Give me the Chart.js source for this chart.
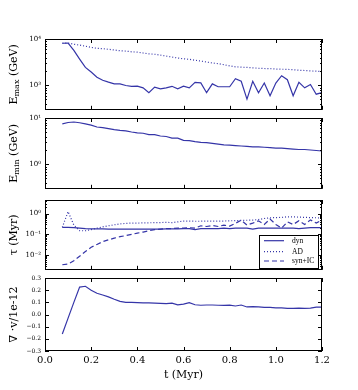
<!DOCTYPE html>
<html>
<head>
<meta charset="utf-8">
<script src="https://cdn.jsdelivr.net/npm/chart.js@4.4.1/dist/chart.umd.min.js"></script>
<style>
  body { margin: 0; background: #fff; }
  #wrap { position: relative; width: 358px; height: 390px; overflow: hidden; }
  #wrap canvas { position: absolute; left: 0; }
</style>
</head>
<body>
<div id="wrap">
  <canvas id="c1" width="358" height="89" style="top:29px"></canvas>
  <canvas id="c2" width="358" height="89" style="top:108px"></canvas>
  <canvas id="c3" width="358" height="88" style="top:190px"></canvas>
  <canvas id="c4" width="358" height="122" style="top:268px"></canvas>
</div>
<script>
// time axis (Myr)
const time = [0.075, 0.1, 0.125, 0.15, 0.175, 0.2, 0.225, 0.25, 0.275, 0.3,
  0.325, 0.35, 0.375, 0.4, 0.425, 0.45, 0.475, 0.5, 0.525, 0.55,
  0.575, 0.6, 0.625, 0.65, 0.675, 0.7, 0.725, 0.75, 0.775, 0.8,
  0.825, 0.85, 0.875, 0.9, 0.925, 0.95, 0.975, 1.0, 1.025, 1.05,
  1.075, 1.1, 1.125, 1.15, 1.175, 1.2];

// E_max (GeV), solid and dotted
const emaxDyn = [8100, 8200, 5700, 3700, 2450, 1950, 1500, 1300, 1180, 1080,
  1080, 1000, 960, 965, 890, 700, 920, 850, 890, 960,
  850, 965, 890, 1170, 1140, 700, 1085, 940, 940, 940,
  1400, 1230, 510, 1230, 700, 1130, 600, 1130, 1620, 1330,
  600, 1170, 890, 1050, 650, 700];
const emaxAD = [8100, 8200, 7700, 7400, 7000, 6600, 6300, 6200, 6000, 5800,
  5600, 5500, 5300, 5200, 5000, 4800, 4700, 4500, 4300, 4100,
  3900, 3750, 3650, 3500, 3350, 3200, 3050, 2950, 2800, 2650,
  2520, 2480, 2450, 2400, 2350, 2320, 2300, 2260, 2240, 2220,
  2180, 2130, 2100, 2060, 2030, 2000];

// E_min (GeV)
const emin = [7.5, 8.0, 8.2, 7.9, 7.5, 7.0, 6.4, 6.2, 5.9, 5.6,
  5.4, 5.3, 5.0, 4.8, 4.7, 4.4, 4.4, 4.1, 4.0, 3.7,
  3.7, 3.3, 3.25, 3.1, 3.0, 2.95, 2.85, 2.75, 2.65, 2.6,
  2.55, 2.5, 2.45, 2.4, 2.4, 2.35, 2.3, 2.25, 2.25, 2.2,
  2.15, 2.1, 2.1, 2.05, 2.0, 1.95];

// timescales (Myr)
const tauDyn = [0.22, 0.22, 0.21, 0.2, 0.19, 0.185, 0.185, 0.185, 0.18, 0.18,
  0.18, 0.18, 0.18, 0.18, 0.18, 0.18, 0.18, 0.18, 0.185, 0.185,
  0.185, 0.19, 0.19, 0.17, 0.19, 0.19, 0.19, 0.19, 0.2, 0.19,
  0.2, 0.2, 0.2, 0.18, 0.2, 0.2, 0.2, 0.2, 0.2, 0.2,
  0.2, 0.19, 0.2, 0.21, 0.21, 0.21];
const tauAD = [0.22, 1.25, 0.28, 0.15, 0.15, 0.17, 0.2, 0.23, 0.26, 0.29,
  0.32, 0.34, 0.35, 0.35, 0.36, 0.36, 0.37, 0.37, 0.38, 0.37,
  0.4, 0.44, 0.44, 0.43, 0.43, 0.44, 0.43, 0.44, 0.44, 0.45,
  0.46, 0.47, 0.48, 0.49, 0.52, 0.58, 0.63, 0.64, 0.66, 0.7,
  0.7, 0.68, 0.66, 0.64, 0.63, 0.6];
const tauSynIC = [0.0035, 0.0038, 0.0055, 0.009, 0.015, 0.024, 0.033, 0.045, 0.055, 0.066,
  0.078, 0.088, 0.1, 0.115, 0.13, 0.15, 0.17, 0.18, 0.19, 0.19,
  0.2, 0.2, 0.21, 0.2, 0.26, 0.24, 0.27, 0.24, 0.28, 0.25,
  0.34, 0.48, 0.28, 0.35, 0.45, 0.3, 0.55, 0.3, 0.2, 0.4,
  0.3, 0.45, 0.3, 0.5, 0.35, 0.5];

// div v / 1e-12
const divV = [-0.16, -0.03, 0.1, 0.225, 0.232, 0.2, 0.175, 0.16, 0.145, 0.125,
  0.108, 0.1, 0.1, 0.098, 0.096, 0.095, 0.094, 0.092, 0.09, 0.093,
  0.08, 0.085, 0.097, 0.08, 0.076, 0.078, 0.078, 0.076, 0.075, 0.077,
  0.07, 0.078, 0.062, 0.064, 0.063, 0.058, 0.058, 0.055, 0.055, 0.05,
  0.05, 0.052, 0.05, 0.052, 0.06, 0.06];

const xTicks = [0, 0.2, 0.4, 0.6, 0.8, 1.0, 1.2];
const divTicks = [-0.3, -0.2, -0.1, 0, 0.1, 0.2, 0.3];

const lineColor = '#3535a8';
const serif = "'DejaVu Serif', 'Liberation Serif', serif";

const supMap = { '0': '⁰', '1': '¹', '2': '²', '3': '³', '4': '⁴', '-': '⁻' };
function powLabel(v) {
  const e = Math.round(Math.log10(v));
  return '10' + String(e).split('').map(c => supMap[c]).join('');
}

// minor ticks for log axes: 2..9 x 10^n inside the range
function logMinor(min, max) {
  const out = [];
  for (let e = Math.floor(Math.log10(min)); e <= Math.ceil(Math.log10(max)); e++) {
    for (let m = 2; m <= 9; m++) {
      const v = m * Math.pow(10, e);
      if (v > min && v < max) out.push(v);
    }
  }
  return out;
}

function series(values, dash) {
  return {
    data: time.map((t, i) => ({ x: t, y: values[i] })),
    borderColor: lineColor,
    borderWidth: 1.2,
    borderDash: dash || [],
    pointRadius: 0,
    fill: false,
    tension: 0
  };
}

// frame, inward ticks, y title and legend
const framePlugin = {
  id: 'frame',
  afterDatasetsDraw(chart, args, opts) {
    const ctx = chart.ctx;
    const a = chart.chartArea;
    const xs = chart.scales.x;
    const ys = chart.scales.y;
    ctx.save();
    ctx.strokeStyle = '#000';
    ctx.lineWidth = 1;
    const seg = (x1, y1, x2, y2) => { ctx.beginPath(); ctx.moveTo(x1, y1); ctx.lineTo(x2, y2); ctx.stroke(); };

    xTicks.forEach(v => {
      const px = Math.round(xs.getPixelForValue(v)) + 0.5;
      seg(px, a.top, px, a.top + 4);
      seg(px, a.bottom, px, a.bottom - 4);
    });
    opts.major.forEach(v => {
      const py = Math.round(ys.getPixelForValue(v)) + 0.5;
      seg(a.left, py, a.left + 4, py);
      seg(a.right, py, a.right - 4, py);
    });
    opts.minor.forEach(v => {
      const py = Math.round(ys.getPixelForValue(v)) + 0.5;
      seg(a.left, py, a.left + 2, py);
      seg(a.right, py, a.right - 2, py);
    });
    ctx.strokeRect(Math.round(a.left) + 0.5, Math.round(a.top) + 0.5,
      Math.round(a.right - a.left) - 1, Math.round(a.bottom - a.top) - 1);

    // rotated y title with optional subscript
    const mainFont = '11px ' + serif;
    const subFont = '8px ' + serif;
    let total = 0;
    opts.title.forEach(p => {
      ctx.font = p.sub ? subFont : mainFont;
      p.w = ctx.measureText(p.text).width;
      total += p.w;
    });
    ctx.translate(14, (a.top + a.bottom) / 2);
    ctx.rotate(-Math.PI / 2);
    ctx.fillStyle = '#000';
    ctx.textBaseline = 'middle';
    ctx.textAlign = 'left';
    let x = -total / 2;
    opts.title.forEach(p => {
      ctx.font = p.sub ? subFont : mainFont;
      ctx.fillText(p.text, x, p.sub ? 3 : 0);
      x += p.w;
    });
    ctx.setTransform(1, 0, 0, 1, 0, 0);

    if (opts.legend) {
      const bx = 259;
      const boxTop = a.top + 35, boxBottom = a.top + 68;
      ctx.fillStyle = '#fff';
      ctx.fillRect(bx, boxTop, 59, boxBottom - boxTop);
      ctx.strokeRect(bx + 0.5, boxTop + 0.5, 59, boxBottom - boxTop);
      const rows = [['dyn', []], ['AD', [1, 2]], ['syn+IC', [5, 3]]];
      const rowY = [5.7, 16.7, 26];
      ctx.font = "7.5px 'Liberation Serif', serif";
      ctx.textBaseline = 'middle';
      rows.forEach((r, i) => {
        const y = boxTop + rowY[i];
        ctx.strokeStyle = lineColor;
        ctx.lineWidth = 1.2;
        ctx.setLineDash(r[1]);
        seg(264, y, 284, y);
        ctx.setLineDash([]);
        ctx.fillStyle = '#000';
        ctx.fillText(r[0], 292, y);
      });
    }
    ctx.restore();
  }
};

function makeChart(id, p) {
  const isLog = p.type === 'logarithmic';
  new Chart(document.getElementById(id), {
    type: 'line',
    data: { datasets: p.datasets },
    plugins: [framePlugin],
    options: {
      responsive: false,
      animation: false,
      layout: { padding: { left: 0, right: 36, top: 10, bottom: p.showX ? 0 : 6 } },
      plugins: {
        legend: { display: false },
        tooltip: { enabled: false },
        frame: { major: p.major, minor: p.minor, title: p.title, legend: !!p.legend }
      },
      scales: {
        x: {
          type: 'linear',
          min: 0, max: 1.2,
          display: p.showX,
          grid: { display: false, drawTicks: false },
          border: { display: false },
          afterBuildTicks: s => { s.ticks = xTicks.map(v => ({ value: v })); },
          afterFit: s => { s.height = p.showX ? 39 : 0; },
          ticks: {
            padding: 3,
            color: '#000',
            font: { family: serif, size: 10 },
            maxRotation: 0,
            callback: v => v.toFixed(1)
          },
          title: {
            display: true,
            text: 't (Myr)',
            color: '#000',
            font: { family: serif, size: 11 },
            padding: { top: 0, bottom: 8 }
          }
        },
        y: {
          type: p.type,
          min: p.min, max: p.max,
          grid: { display: false, drawTicks: false },
          border: { display: false },
          afterFit: s => { s.width = 45; },
          afterBuildTicks: s => { s.ticks = p.major.map(v => ({ value: v })); },
          ticks: {
            padding: 4,
            color: '#000',
            autoSkip: false,
            font: { family: serif, size: isLog ? 7 : 6 },
            callback: v => isLog ? powLabel(v) : (Math.abs(v) < 1e-9 ? '0.0' : v.toFixed(1).replace('-', '\u2212'))
          }
        }
      }
    }
  });
}

makeChart('c1', {
  type: 'logarithmic', min: 300, max: 10000,
  major: [1000, 10000], minor: logMinor(300, 10000),
  title: [{ text: 'E' }, { text: 'max', sub: true }, { text: ' (GeV)' }],
  datasets: [series(emaxDyn), series(emaxAD, [1, 2])],
  showX: false
});

makeChart('c2', {
  type: 'logarithmic', min: 0.32, max: 10,
  major: [1, 10], minor: logMinor(0.32, 10),
  title: [{ text: 'E' }, { text: 'min', sub: true }, { text: ' (GeV)' }],
  datasets: [series(emin)],
  showX: false
});

makeChart('c3', {
  type: 'logarithmic', min: 0.002, max: 4.5,
  major: [0.01, 0.1, 1], minor: logMinor(0.002, 4.5),
  title: [{ text: '\u03c4 (Myr)' }],
  datasets: [series(tauDyn), series(tauAD, [1, 2]), series(tauSynIC, [5, 3])],
  legend: true,
  showX: false
});

makeChart('c4', {
  type: 'linear', min: -0.3, max: 0.3,
  major: divTicks, minor: [],
  title: [{ text: '\u2207 \u00b7v/1e-12' }],
  datasets: [series(divV)],
  showX: true
});
</script>
</body>
</html>
